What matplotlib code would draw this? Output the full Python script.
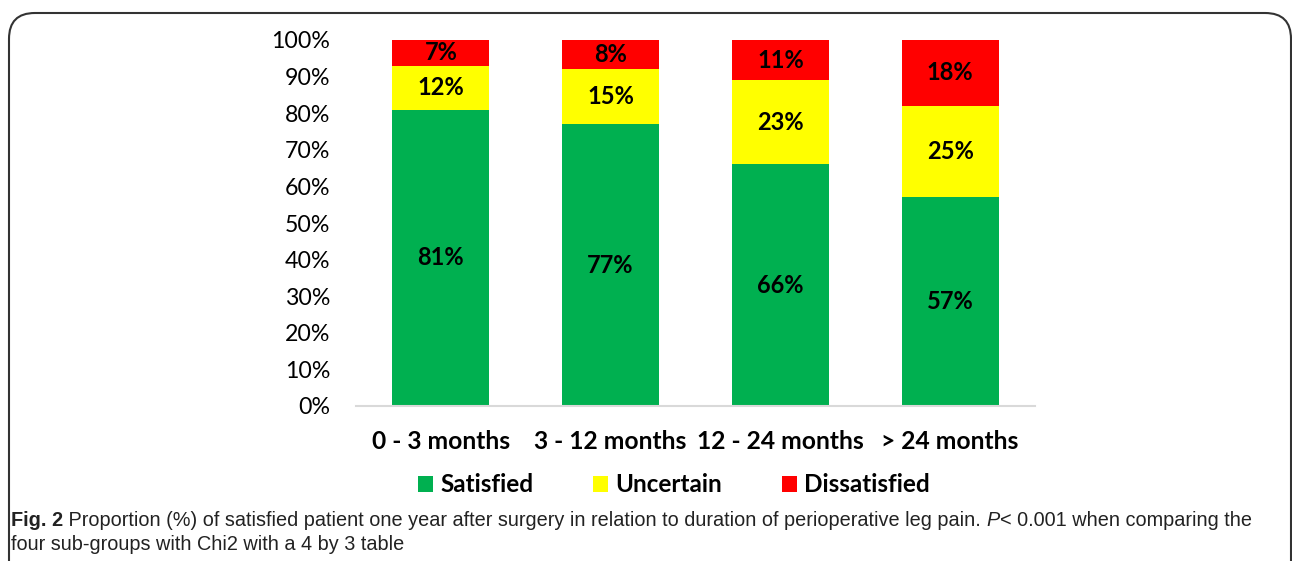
# satisfaction by duration of perioperative leg pain - stacked 100% bars
import matplotlib.pyplot as plt
from matplotlib.patches import FancyBboxPatch, Patch
import numpy as np

# data
categories = ['0 - 3 months', '3 - 12 months', '12 - 24 months', '> 24 months']
satisfied = [81, 77, 66, 57]
uncertain = [12, 15, 23, 25]
dissatisfied = [7, 8, 11, 18]
y_ticks = [0, 10, 20, 30, 40, 50, 60, 70, 80, 90, 100]

series_names = ['Satisfied', 'Uncertain', 'Dissatisfied']
series_colors = ['#00B050', '#FFFF00', '#FF0000']

plt.rcParams['font.family'] = ['Lato', 'DejaVu Sans']

fig = plt.figure(figsize=(12.92, 5.61), dpi=100)
ax = fig.add_axes([356 / 1292, 1 - 406 / 561, (1035 - 356) / 1292, (406 - 40) / 561])

x = np.arange(len(categories))
bottom = np.zeros(len(categories))
for name, vals, col in zip(series_names, [satisfied, uncertain, dissatisfied], series_colors):
  vals = np.array(vals, dtype=float)
  ax.bar(x, vals, 0.57, bottom=bottom, color=col, label=name, zorder=2)
  for xi, b, v in zip(x, bottom, vals):
    ax.text(xi, b + v / 2, f"{int(v)}%", ha='center', va='center',
            fontsize=17, fontweight='bold', color='black', zorder=3)
  bottom += vals

ax.set_xlim(-0.5, len(categories) - 0.5)
ax.set_ylim(0, 100)
ax.set_yticks(y_ticks)
ax.set_yticklabels([f"{t}%" for t in y_ticks], fontsize=16.7)
ax.set_xticks(x)
ax.set_xticklabels(categories, fontsize=17.7, fontweight='bold')
ax.tick_params(axis='both', length=0)
ax.tick_params(axis='x', pad=17)
ax.tick_params(axis='y', pad=18.5)
for s in ['top', 'right', 'left']:
  ax.spines[s].set_visible(False)
ax.spines['bottom'].set_color('#d9d9d9')
ax.spines['bottom'].set_linewidth(1.5)

handles = [Patch(facecolor=c, edgecolor='none') for c in series_colors]
leg = fig.legend(handles, series_names, loc='center', bbox_to_anchor=(674 / 1292, 1 - 485 / 561),
                 ncol=3, frameon=False, handlelength=0.62, handleheight=0.62,
                 handletextpad=0.3, columnspacing=2.45,
                 prop={'size': 17.5, 'weight': 'bold'})

# rounded frame around the figure
frame = FancyBboxPatch((9 / 1292, -0.2), (1291 - 9) / 1292, 1 - 13 / 561 + 0.2,
                       boxstyle='round,pad=0,rounding_size=0.02',
                       transform=fig.transFigure, fill=False,
                       edgecolor='#333333', linewidth=1.5, mutation_aspect=1292 / 561)
fig.patches.append(frame)

# caption, built from pieces so bold / italic parts line up
cap_font = ['Liberation Sans', 'DejaVu Sans']
renderer = fig.canvas.get_renderer()

def put_pieces(pieces, x0_px, y_px):
  x_px = x0_px
  for txt, wt, st in pieces:
    t = fig.text(x_px / 1292, 1 - y_px / 561, txt, fontsize=14.3, fontweight=wt,
                 style=st, family=cap_font, va='center', ha='left', color='#222222')
    bb = t.get_window_extent(renderer=renderer)
    x_px += bb.width

put_pieces([
  ('Fig. 2', 'bold', 'normal'),
  (' Proportion (%) of satisfied patient one year after surgery in relation to duration of perioperative leg pain. ', 'normal', 'normal'),
  ('P', 'normal', 'italic'),
  ('< 0.001 when comparing the', 'normal', 'normal'),
], 11, 520)
put_pieces([
  ('four sub-groups with Chi2 with a 4 by 3 table', 'normal', 'normal'),
], 11, 545)

fig.savefig('out.png', dpi=100)
